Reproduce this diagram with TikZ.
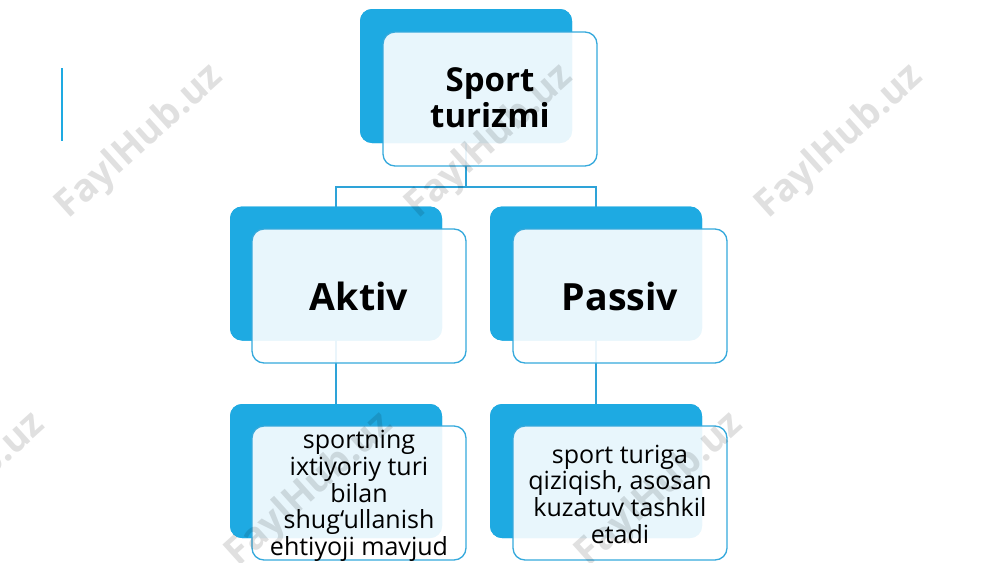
\documentclass[tikz,border=0pt]{standalone}
\usepackage{fontspec}
\setmainfont{Open Sans}
\definecolor{backblue}{HTML}{1EAAE2}
\definecolor{edgeblue}{HTML}{35A9DC}
\definecolor{linkblue}{HTML}{2EA3D8}
\tikzset{
  backbox/.style={fill=backblue, draw=none, rounded corners=12pt, minimum width=212pt, minimum height=134pt, inner sep=0pt},
  frontbox/.style={fill=white, fill opacity=0.9, text opacity=1, draw=edgeblue, line width=1.3pt, rounded corners=12pt, minimum width=214pt, minimum height=134pt, inner sep=0pt, align=center, text=black},
  conn/.style={draw=linkblue, line width=1.1pt},
  wm/.style={text=black, text opacity=0.12, font=\fontsize{38}{40}\selectfont\bfseries, rotate=42, inner sep=0pt},
  toptext/.style={font=\fontsize{33}{36}\selectfont\bfseries},
  midtext/.style={font=\fontsize{37.5}{44}\selectfont\bfseries},
  lowtext/.style={font=\fontsize{25}{26.7}\selectfont},
}
\begin{document}
\begin{tikzpicture}[x=1pt, y=-1pt]
\useasboundingbox (0,0) rectangle (1000,562);
\fill[white] (0,0) rectangle (1000,562);
% decorative side bar
\coordinate (sbT) at (62,68);
\coordinate (sbB) at (62,141);
\draw[draw=backblue, line width=2pt] (sbT) -- (sbB);
% back boxes (positions)
\node[backbox] (tb) at (466,76) {};
\node[backbox] (ab) at (336,273.5) {};
\node[backbox] (pb) at (596,273.5) {};
\node[backbox] (ldb) at (336,471) {};
\node[backbox] (rdb) at (596,471) {};
% connectors
\coordinate (bar) at (0,187);
\draw[conn] (tb.center) -- (tb.center |- bar) -| (ab.center);
\draw[conn] (tb.center |- bar) -| (pb.center);
\draw[conn] (ab.center) -- (ldb.center);
\draw[conn] (pb.center) -- (rdb.center);
% redraw back boxes over connectors
\node[backbox] at (tb) {};
\node[backbox] at (ab) {};
\node[backbox] at (pb) {};
\node[backbox] at (ldb) {};
\node[backbox] at (rdb) {};
% front boxes
\node[frontbox] (tf) at (490,99) {};
\node[toptext, align=center] (tt) at (490,98) {Sport\\turizmi};
\node[frontbox, midtext] (af) at (359,296) {Aktiv};
\node[frontbox, midtext] (pf) at (620,296) {Passiv};
\node[frontbox] (ldf) at (359,493) {};
\node[lowtext, align=center] (ldt) at (359,496) {sportning\\ixtiyoriy turi\\bilan\\shug‘ullanish\\ehtiyoji mavjud};
\node[frontbox] (rdf) at (620,493) {};
\node[lowtext, align=center] (rdt) at (620,494) {sport turiga\\qiziqish, asosan\\kuzatuv tashkil\\etadi};
% watermarks
\node[wm] (w1) at (140,142) {FaylHub.uz};
\node[wm] (w2) at (490,142) {FaylHub.uz};
\node[wm] (w3) at (840,142) {FaylHub.uz};
\node[wm] (w4) at (-38,490) {FaylHub.uz};
\node[wm] (w5) at (310,490) {FaylHub.uz};
\node[wm] (w6) at (660,490) {FaylHub.uz};
\end{tikzpicture}
\end{document}
